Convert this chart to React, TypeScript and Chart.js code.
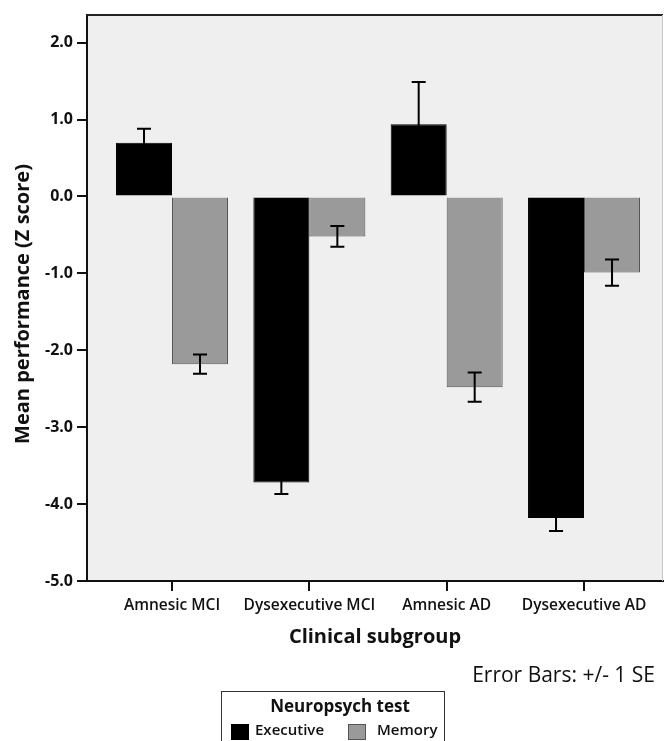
import React, { useEffect, useRef } from "react";
import { Chart, registerables } from "chart.js";
Chart.register(...registerables);

const categories = ["Amnesic MCI", "Dysexecutive MCI", "Amnesic AD", "Dysexecutive AD"];
const executiveMeans = [0.7, -3.72, 0.94, -4.18];
const executiveSE = [0.18, 0.15, 0.55, 0.17];
const memoryMeans = [-2.18, -0.52, -2.48, -0.99];
const memorySE = [0.125, 0.135, 0.19, 0.17];
const yTicks = [-5, -4, -3, -2, -1, 0, 1, 2];
const seriesNames = ["Executive", "Memory"];
const legendTitle = "Neuropsych test";
const xTitle = "Clinical subgroup";
const yTitle = "Mean performance (Z score)";
const note = "Error Bars: +/- 1 SE";

const FONT = "'Open Sans', sans-serif";
const X_START = -0.619;
const X_END = 3.575;

const framePlugin = {
  id: "framePlugin",
  beforeDraw(chart: any) {
    const { ctx, chartArea: a } = chart;
    ctx.save();
    ctx.fillStyle = "#efefef";
    ctx.fillRect(a.left, a.top, a.right - a.left, a.bottom - a.top);
    ctx.restore();
  },
  afterDatasetsDraw(chart: any) {
    const { ctx, chartArea: a } = chart;
    const yScale = chart.scales.y;
    ctx.save();
    chart.data.datasets.forEach((ds: any, di: number) => {
      const meta = chart.getDatasetMeta(di);
      meta.data.forEach((el: any, i: number) => {
        const m = ds.means[i];
        const se = ds.se[i];
        const y1 = yScale.getPixelForValue(m + se);
        const y2 = yScale.getPixelForValue(m - se);
        const x = el.x;
        ctx.strokeStyle = "#000";
        ctx.lineWidth = 2;
        ctx.beginPath();
        ctx.moveTo(x, y1);
        ctx.lineTo(x, y2);
        ctx.moveTo(x - 7, y1);
        ctx.lineTo(x + 7, y1);
        ctx.moveTo(x - 7, y2);
        ctx.lineTo(x + 7, y2);
        ctx.stroke();
      });
    });
    ctx.strokeStyle = "#222";
    ctx.lineWidth = 2;
    ctx.beginPath();
    ctx.moveTo(a.left, a.top);
    ctx.lineTo(a.right, a.top);
    ctx.stroke();
    ctx.strokeStyle = "#c8c8c8";
    ctx.lineWidth = 1;
    ctx.beginPath();
    ctx.moveTo(a.right - 0.5, a.top);
    ctx.lineTo(a.right - 0.5, a.bottom);
    ctx.stroke();
    ctx.restore();
  },
  afterDraw(chart: any) {
    const { ctx } = chart;
    ctx.save();
    // y axis title
    ctx.save();
    ctx.translate(23, 304);
    ctx.rotate(-Math.PI / 2);
    ctx.fillStyle = "#111";
    ctx.textAlign = "center";
    ctx.textBaseline = "middle";
    ctx.font = `bold 20px ${FONT}`;
    ctx.fillText(yTitle, 0, 0);
    ctx.restore();
    ctx.fillStyle = "#111";
    ctx.textBaseline = "middle";
    ctx.textAlign = "right";
    ctx.font = `21px ${FONT}`;
    ctx.fillText(note, 655, 676);
    ctx.fillStyle = "#ffffff";
    ctx.fillRect(221.5, 691.5, 223, 60);
    ctx.strokeStyle = "#333";
    ctx.lineWidth = 1;
    ctx.strokeRect(221.5, 691.5, 223, 60);
    ctx.fillStyle = "#111";
    ctx.textAlign = "center";
    ctx.font = `bold 17px ${FONT}`;
    ctx.fillText(legendTitle, 340, 707);
    const xs = [231, 348];
    const tx = [255, 377];
    chart.data.datasets.forEach((ds: any, i: number) => {
      ctx.fillStyle = ds.backgroundColor;
      ctx.fillRect(xs[i] + 0.5, 724.5, 17, 15);
      ctx.strokeStyle = ds.borderColor;
      ctx.strokeRect(xs[i] + 0.5, 724.5, 17, 15);
      ctx.fillStyle = "#111";
      ctx.textAlign = "left";
      ctx.font = `600 15px ${FONT}`;
      ctx.fillText(ds.label, tx[i], 731);
    });
    ctx.restore();
  },
};

export default function App() {
  const ref = useRef<HTMLCanvasElement>(null);
  useEffect(() => {
    if (!ref.current) return;
    const chart = new Chart(ref.current, {
      type: "bar",
      data: {
        labels: categories,
        datasets: [
          {
            label: seriesNames[0],
            data: executiveMeans,
            means: executiveMeans,
            se: executiveSE,
            backgroundColor: "#000000",
            borderColor: "#000000",
            borderWidth: 1,
          } as any,
          {
            label: seriesNames[1],
            data: memoryMeans,
            means: memoryMeans,
            se: memorySE,
            backgroundColor: "#9a9a9a",
            borderColor: "#555555",
            borderWidth: 1,
          } as any,
        ],
      },
      options: {
        animation: false,
        responsive: false,
        maintainAspectRatio: false,
        layout: { padding: { top: 15, right: 3, left: 0, bottom: 0 } },
        datasets: { bar: { categoryPercentage: 0.8155, barPercentage: 1 } },
        plugins: { legend: { display: false }, tooltip: { enabled: false } },
        scales: {
          x: {
            type: "category",
            offset: true,
            afterBuildTicks: (s: any) => {
              s._startValue = X_START;
              s._valueRange = X_END - X_START;
            },
            afterFit: (s: any) => {
              s.height = 160;
            },
            ticks: {
              color: "#111",
              font: { family: FONT, size: 15.5, weight: "600" },
              padding: 5,
              maxRotation: 0,
              autoSkip: false,
            },
            grid: { offset: false, drawOnChartArea: false, drawTicks: true, tickLength: 10, color: "#111", lineWidth: 2 },
            border: { display: true, color: "#111", width: 2 },
            title: {
              display: true,
              text: xTitle,
              color: "#111",
              font: { family: FONT, size: 20, weight: "bold" },
              padding: { top: 0, bottom: 92 },
            },
          },
          y: {
            type: "linear",
            min: -5,
            max: 2.36,
            afterBuildTicks: (s: any) => {
              s.ticks = yTicks.map((v) => ({ value: v }));
            },
            afterFit: (s: any) => {
              s.width = 87;
            },
            ticks: {
              callback: (v: any) => Number(v).toFixed(1),
              color: "#111",
              font: { family: FONT, size: 16, weight: "bold" },
              padding: 4,
            },
            grid: { drawOnChartArea: false, drawTicks: true, tickLength: 10, color: "#111", lineWidth: 2 },
            border: { display: true, color: "#111", width: 2 },
            title: { display: false },
          },
        },
      },
      plugins: [framePlugin],
    } as any);
    return () => chart.destroy();
  }, []);
  return (
    <div style={{ position: "fixed", left: 0, top: 0, width: 666, height: 741, background: "#fff" }}>
      <canvas ref={ref} width={666} height={741} style={{ width: 666, height: 741 }} />
    </div>
  );
}
